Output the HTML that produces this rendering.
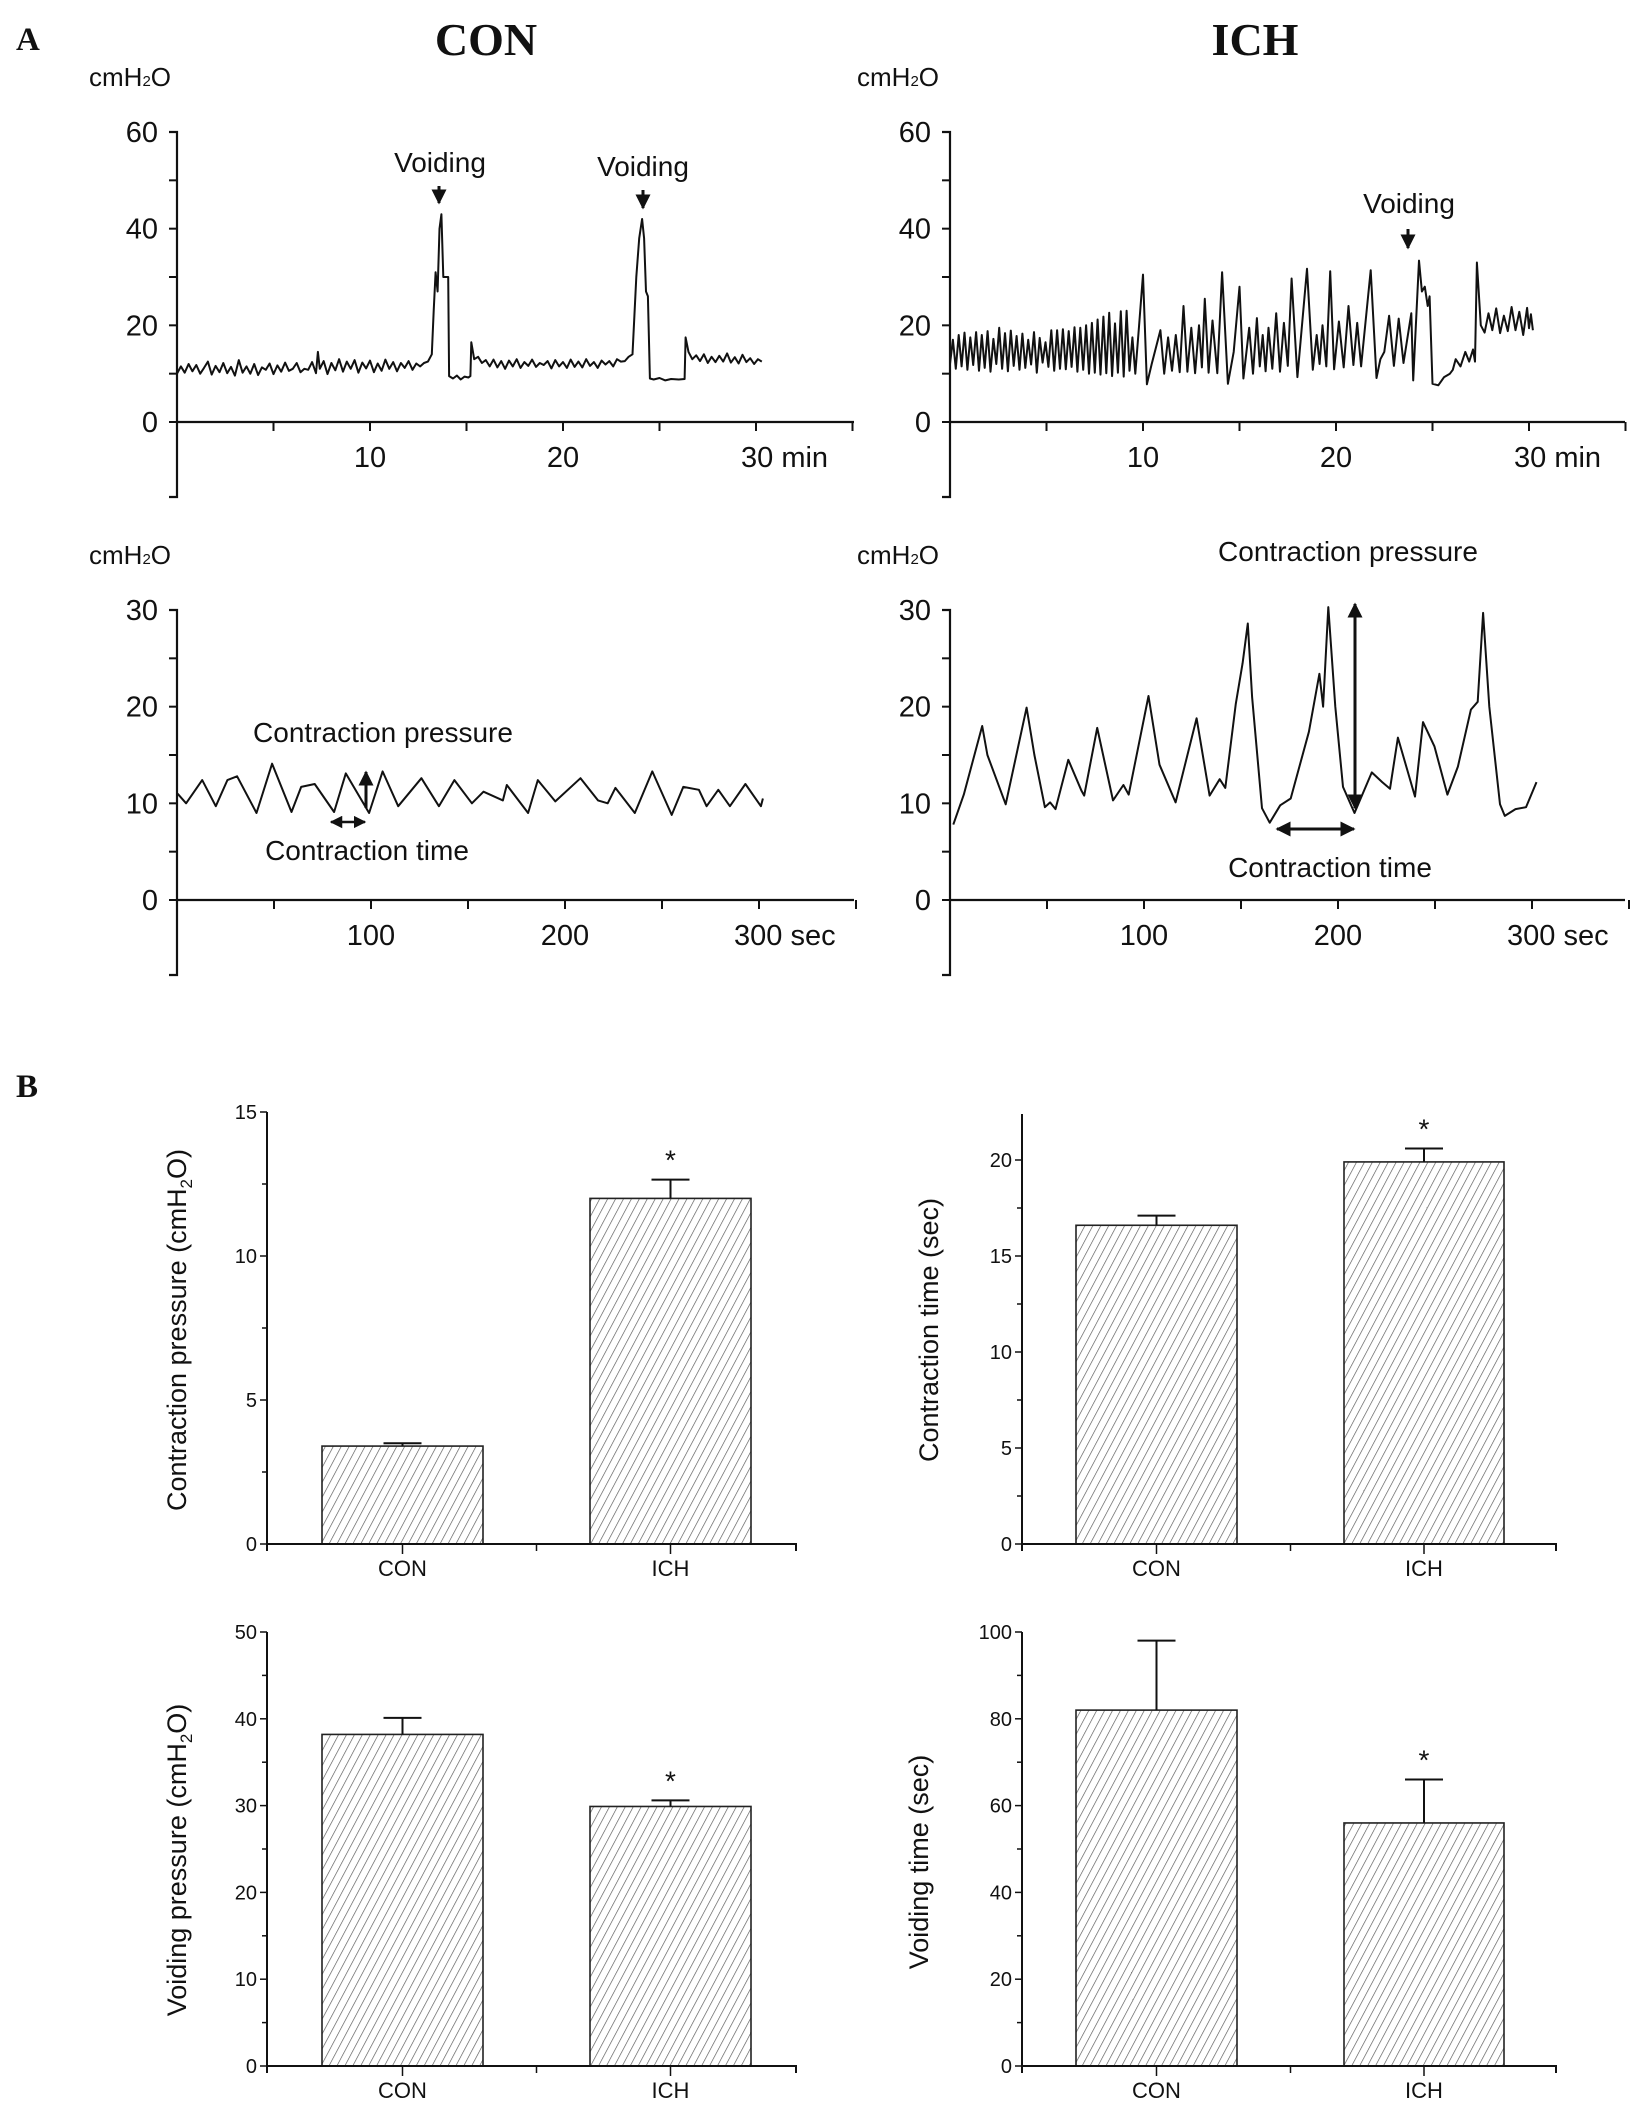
<!DOCTYPE html>
<html><head><meta charset="utf-8"><style>
html,body{margin:0;padding:0;background:#fff}
svg{display:block}
text{font-family:"Liberation Sans",Arial,sans-serif;fill:#111}
.ser{font-family:"Liberation Serif","Times New Roman",serif;font-weight:bold}
</style></head><body>
<svg id="fig" width="1639" height="2120" viewBox="0 0 1639 2120" xmlns="http://www.w3.org/2000/svg">
<defs>
<pattern id="hatch" patternUnits="userSpaceOnUse" width="7" height="7" patternTransform="rotate(28)">
<rect width="7" height="7" fill="#fff"/><line x1="0" y1="0" x2="0" y2="7" stroke="#555" stroke-width="1.3"/>
</pattern>
<marker id="ah" viewBox="0 0 10 10" refX="9" refY="5" markerWidth="5" markerHeight="5" orient="auto-start-reverse"><path d="M0,0 L10,5 L0,10 z" fill="#111"/></marker>
</defs>
<text x="16" y="50" class="ser" font-size="33">A</text>
<text x="486" y="55" class="ser" font-size="46" text-anchor="middle">CON</text>
<text x="1255" y="55" class="ser" font-size="46" text-anchor="middle">ICH</text>
<text x="16" y="1097" class="ser" font-size="33">B</text>
<g id="root"></g>
</svg>
<script>
// ---------- trace data: [time, pressure] ----------
const conTopPoints=[[0,10],[0.2,11.5],[0.4,10.2],[0.6,12],[0.8,10.5],[1,11.8],[1.2,10],[1.4,11.2],[1.6,12.5],[1.8,9.8],[2,11.6],[2.2,10.3],[2.4,12.2],[2.6,10.1],[2.8,11.4],[3,9.6],[3.2,12.8],[3.4,10.2],[3.6,11.5],[3.8,10],[4,12],[4.2,9.7],[4.4,11.3],[4.6,10.8],[4.8,12.1],[5,9.9],[5.2,11.7],[5.4,10.4],[5.6,12.3],[5.8,10.6],[6,11],[6.2,12.2],[6.4,10.3],[6.6,11],[6.8,10.8],[7,12.4],[7.2,10.1],[7.3,14.5],[7.4,11],[7.6,12.6],[7.8,9.9],[8,12.2],[8.2,10.7],[8.4,13],[8.6,10.4],[8.8,12.5],[9,11],[9.2,12.8],[9.4,10.2],[9.6,12.3],[9.8,11.1],[10,12.7],[10.2,10.3],[10.4,12.1],[10.6,10.6],[10.8,12.9],[11,11],[11.2,12.4],[11.4,10.5],[11.6,12.2],[11.8,11.2],[12,12.6],[12.2,10.8],[12.4,12.1],[12.6,11.5],[12.8,12.2],[13,12.5],[13.2,14],[13.3,23],[13.4,31],[13.5,27],[13.6,40],[13.7,43],[13.8,30],[14.05,30],[14.1,9.5],[14.3,9],[14.5,9.6],[14.7,8.8],[14.9,9.4],[15.1,9.2],[15.2,9.5],[15.25,16.5],[15.4,13],[15.6,13.5],[15.8,12.2],[16,12.8],[16.2,11.5],[16.4,12.9],[16.6,11.3],[16.8,12.6],[17,11],[17.2,12.7],[17.4,11.5],[17.6,13],[17.8,11.2],[18,12.4],[18.2,11.6],[18.4,12.9],[18.6,11.4],[18.8,12.2],[19,11.8],[19.2,12.6],[19.4,11.1],[19.6,12.8],[19.8,11.5],[20,12.4],[20.2,11.2],[20.4,12.9],[20.6,11.4],[20.8,12.5],[21,11.3],[21.2,13],[21.4,11.6],[21.6,12.4],[21.8,11.2],[22,12.7],[22.2,11.9],[22.4,12.6],[22.6,11.5],[22.8,13],[23,12.5],[23.2,12.6],[23.4,13.5],[23.6,14],[23.7,22],[23.8,30],[23.95,38],[24.1,42],[24.2,38],[24.3,27],[24.4,26],[24.5,9],[24.7,8.8],[25,9.1],[25.3,8.6],[25.6,8.9],[26,8.8],[26.3,8.9],[26.35,17.5],[26.5,14.5],[26.7,13],[26.9,13.8],[27.1,12.6],[27.3,14],[27.5,12.2],[27.7,13.5],[27.9,12.4],[28.1,13.7],[28.3,12.5],[28.5,14.2],[28.7,12.3],[28.9,13.4],[29.1,12.1],[29.3,13.9],[29.5,12.4],[29.7,13.2],[29.9,12],[30.1,13],[30.3,12.5]];
const ichTopPoints=[[0,12],[0.15,17],[0.3,11],[0.45,18],[0.6,11.5],[0.75,18.5],[0.9,10.8],[1.05,17.5],[1.2,11.8],[1.35,18.6],[1.5,10.6],[1.65,18],[1.8,11.2],[1.95,18.8],[2.1,10.4],[2.25,17.2],[2.4,12],[2.55,19.5],[2.7,11],[2.85,18.4],[3,10.5],[3.15,18.9],[3.3,11.6],[3.45,17.8],[3.6,10.8],[3.75,18.3],[3.9,11.2],[4.05,17],[4.2,11.9],[4.35,18.6],[4.5,10.2],[4.65,17.4],[4.8,12.3],[4.95,16.5],[5.1,11.4],[5.25,19],[5.4,10.6],[5.55,19],[5.7,11],[5.85,19.2],[6,10.9],[6.15,18.8],[6.3,11.4],[6.45,19.6],[6.6,10.4],[6.75,19.5],[6.9,10.8],[7.05,20],[7.2,10],[7.35,20.5],[7.5,10.2],[7.65,21.2],[7.8,9.8],[7.95,21.8],[8.1,10.1],[8.25,22.6],[8.4,9.5],[8.55,20.4],[8.7,10.2],[8.85,22.9],[9,9.4],[9.15,23],[9.3,10.6],[9.45,17.5],[9.6,10],[9.8,20],[10,30.5],[10.2,7.8],[10.45,12],[10.9,19],[11.1,10],[11.3,17.5],[11.5,10.6],[11.7,18],[11.9,10.3],[12.1,24],[12.3,10.4],[12.5,19.5],[12.7,10.1],[12.9,20],[13.05,11.3],[13.2,25.5],[13.4,10.2],[13.6,21],[13.85,10.1],[14.1,31],[14.4,7.9],[14.7,14.5],[15,28],[15.2,9],[15.5,19.5],[15.7,10],[15.9,21.5],[16.05,11.5],[16.2,18],[16.35,10.5],[16.5,19.5],[16.7,11],[16.9,22.5],[17.1,10.4],[17.3,20.5],[17.5,11.6],[17.7,29.7],[18,9.3],[18.5,31.7],[18.8,10.8],[19,18],[19.15,12],[19.3,20],[19.5,11.5],[19.7,31.2],[19.9,10.9],[20.15,20.8],[20.4,11.3],[20.65,24],[20.9,11.8],[21.1,20.5],[21.3,11.5],[21.8,31.4],[22.1,9.1],[22.3,13],[22.5,14.5],[22.75,22],[23,11.6],[23.25,21.4],[23.5,12.2],[23.9,22.5],[24,8.6],[24.3,33.4],[24.45,27],[24.6,28],[24.75,24],[24.85,26],[25,7.9],[25.3,7.6],[25.6,9.3],[25.9,10],[26.05,10.8],[26.2,13],[26.45,11.5],[26.7,14.5],[26.9,12.5],[27.1,15],[27.2,12.5],[27.3,33],[27.5,20],[27.7,18.5],[27.9,22.5],[28.1,19],[28.3,23.5],[28.5,18.4],[28.7,22],[28.9,18.8],[29.1,23.8],[29.3,19],[29.5,22.8],[29.7,18],[29.9,23.6],[30,19.4],[30.1,22.3],[30.2,19]];
const conBotPoints=[[0.3,11],[4.7,10],[13,12.4],[20,9.7],[26,12.4],[31,12.8],[41,9],[49,14.1],[59,9.1],[64,11.7],[71,12],[81,9.1],[87,13.1],[99,9],[106,13.3],[114,9.7],[126,12.6],[135,9.7],[143,12.4],[152,10],[158,11.2],[168,10.3],[170,11.9],[181,9],[186,12.4],[195,10.2],[208,12.6],[217,10.3],[222,10],[226,11.6],[236,9],[245,13.3],[255,8.8],[261,11.7],[269,11.4],[273,9.7],[279,11.4],[285,9.7],[293,12],[301,9.7],[302,10.5]];
const ichBotPoints=[[1.7,7.8],[7.1,10.9],[16.6,18],[19.3,15],[28.7,9.9],[39.5,19.9],[43.5,15],[48.9,9.6],[51.6,10.1],[54.4,9.4],[61,14.5],[67.8,11.3],[69.2,10.8],[75.9,17.8],[84,10.3],[89.4,11.9],[92.1,10.9],[102.3,21.1],[108,14],[116.3,10.1],[127.1,18.8],[133.8,10.8],[139,12.5],[141.9,11.6],[147.3,20.3],[150.8,24.5],[153.5,28.6],[155.7,21],[160.8,9.5],[164.8,8],[170.2,9.8],[175.6,10.5],[185,17.4],[190.4,23.4],[192.3,20],[195,30.3],[198.6,20],[202.6,11.7],[208.5,9],[217.4,13.2],[222.8,12.2],[226.8,11.5],[230.9,16.8],[239.7,10.7],[243.8,18.4],[249.7,15.9],[256.4,10.9],[261.8,13.8],[268.5,19.7],[272,20.5],[274.8,29.7],[278,20],[283.5,9.9],[286,8.7],[291.5,9.4],[296.9,9.6],[302.3,12.2]];
// ---------- bar data ----------
const barCategories=["CON","ICH"];
const cpMean=[3.4,12.0], cpErr=[3.5,12.65];
const ctMean=[16.6,19.9], ctErr=[17.1,20.6];
const vpMean=[38.2,29.9], vpErr=[40.1,30.6];
const vtMean=[82,56], vtErr=[98,66];
const cpTicks=[0,5,10,15], ctTicks=[0,5,10,15,20], vpTicks=[0,10,20,30,40,50], vtTicks=[0,20,40,60,80,100];
const topXTicks=[10,20,30], botXTicks=[100,200,300];

const NS="http://www.w3.org/2000/svg";
const root=document.getElementById('root');
function mk(tag,attrs,parent,txt){const e=document.createElementNS(NS,tag);for(const k in attrs)e.setAttribute(k,attrs[k]);if(txt!==undefined)e.textContent=txt;(parent||root).appendChild(e);return e;}

function tracePanel(o){
  const g=mk('g',{});
  
  
  const sx=v=>o.x0+v*o.pxX, sy=v=>o.y0-v*o.pxY;
  const yTop=sy(o.ymax);
  const ax=mk('path',{d:`M${o.x0-8},${yTop} H${o.x0} V${o.y0+75} H${o.x0-8} M${o.x0},${o.y0} H${o.xEnd}`,stroke:'#111','stroke-width':2.2,fill:'none'},g);
  
  
  for(let v=0;v<=o.ymax;v+=o.ymax/6){const y=sy(v);mk('line',{x1:o.x0-8,y1:y,x2:o.x0,y2:y,stroke:'#111','stroke-width':2},g);}
  for(let v=0;v<=o.ymax;v+=o.ymax/3){const t=mk('text',{x:o.x0-19,y:sy(v)+10,'font-size':29,'text-anchor':'end'},g,String(v));
    
    }
  for(let v=o.xstep;v<=o.xmax;v+=o.xstep){const x=sx(v);mk('line',{x1:x,y1:o.y0,x2:x,y2:o.y0+9,stroke:'#111','stroke-width':2},g);}
  o.xTicks.forEach((v,i)=>{const last=i===o.xTicks.length-1;
    const t=mk('text',{x:last?sx(v)-o.lastOff:sx(v),y:o.y0+45,'font-size':29,'text-anchor':last?'start':'middle'},g,last?v+' '+o.unit:String(v));
    
    });
  const u=mk('text',{x:o.ux,y:o.uy,'font-size':26},g);
  
  
  mk('tspan',{},u,'cmH');mk('tspan',{'font-size':15},u,'2');mk('tspan',{},u,'O');
  let d='';o.pts.forEach((p,i)=>{d+=(i?'L':'M')+sx(p[0]).toFixed(1)+','+sy(p[1]).toFixed(1);});
  const p=mk('path',{d,stroke:'#111','stroke-width':2,fill:'none','stroke-linejoin':'round'},g);
  
  
}
function label(txt,x,y,size,name){const t=mk('text',{x,y,'font-size':size,'text-anchor':'middle'},root,txt);
  
  return t;}
function arrow(x1,y1,x2,y2,both,name,w){const l=mk('line',{x1,y1,x2,y2,stroke:'#111','stroke-width':w||3,'marker-end':'url(#ah)'});if(both)l.setAttribute('marker-start','url(#ah)');
  
  }

tracePanel({name:'con-cystometry-30min',x0:177,y0:422,pxX:19.3,pxY:290/60,ymax:60,xmax:35,xstep:5,xEnd:854,xTicks:topXTicks,unit:'min',lastOff:15,pts:conTopPoints,ux:89,uy:86});
tracePanel({name:'ich-cystometry-30min',x0:950,y0:422,pxX:19.3,pxY:290/60,ymax:60,xmax:35,xstep:5,xEnd:1625,xTicks:topXTicks,unit:'min',lastOff:15,pts:ichTopPoints,ux:857,uy:86});
tracePanel({name:'con-cystometry-300sec',x0:177,y0:900,pxX:1.94,pxY:290/30,ymax:30,xmax:350,xstep:50,xEnd:854,xTicks:botXTicks,unit:'sec',lastOff:25,pts:conBotPoints,ux:89,uy:564});
tracePanel({name:'ich-cystometry-300sec',x0:950,y0:900,pxX:1.94,pxY:290/30,ymax:30,xmax:350,xstep:50,xEnd:1625,xTicks:botXTicks,unit:'sec',lastOff:25,pts:ichBotPoints,ux:857,uy:564});

label('Voiding',440,172,28,'voiding-label-1');arrow(439,186,439,203,false,'voiding-arrow-1',3);
label('Voiding',643,176,28,'voiding-label-2');arrow(643,190,643,208,false,'voiding-arrow-2',3);
label('Voiding',1409,213,28,'voiding-label-3');arrow(1408,229,1408,248,false,'voiding-arrow-3',3);
label('Contraction pressure',383,742,28,'contraction-pressure-label-con');
label('Contraction time',367,860,28,'contraction-time-label-con');
arrow(331,822,365,822,true,'contraction-time-arrow-con',2.5);
arrow(366,808,366,772,false,'contraction-pressure-arrow-con',3);
label('Contraction pressure',1348,561,28,'contraction-pressure-label-ich');
label('Contraction time',1330,877,28,'contraction-time-label-ich');
arrow(1277,829,1354,829,true,'contraction-time-arrow-ich',3);
arrow(1355,808,1355,604,true,'contraction-pressure-arrow-ich',3);

function barChart(o){
  const g=mk('g',{});
  
  
  const ymax=o.ticks[o.ticks.length-1];
  const sy=v=>o.y0-(v/ymax)*(o.y0-o.yTop);
  const top=o.axisTop!==undefined?o.axisTop:sy(ymax);
  const step=o.ticks[1]-o.ticks[0];
  for(let v=0;v<=ymax+1e-9;v+=step/2){const y=sy(v);const maj=Math.abs((v/step)-Math.round(v/step))<1e-6;
    mk('line',{x1:o.ax-(maj?7:5),y1:y,x2:o.ax,y2:y,stroke:'#111','stroke-width':1.5},g);}
  o.ticks.forEach(v=>{const t=mk('text',{x:o.ax-10,y:sy(v)+7,'font-size':20,'text-anchor':'end'},g,String(v));
    
    });
  o.mean.forEach((m,i)=>{
    const x1=o.bars[i][0],x2=o.bars[i][1],cx=(x1+x2)/2;
    const r=mk('rect',{x:x1,y:sy(m),width:x2-x1,height:o.y0-sy(m),fill:'url(#hatch)',stroke:'#222','stroke-width':1.6},g);
    
    
    const e=mk('path',{d:`M${cx},${sy(m)} V${sy(o.err[i])} M${cx-19},${sy(o.err[i])} H${cx+19}`,stroke:'#111','stroke-width':2,fill:'none'},g);
    
    
    mk('line',{x1:cx,y1:o.y0,x2:cx,y2:o.y0+10,stroke:'#111','stroke-width':1.5},g);
    const c=mk('text',{x:cx,y:o.y0+32,'font-size':22,'text-anchor':'middle'},g,barCategories[i]);
    
    
    if(o.star[i]){const s=mk('text',{x:cx,y:sy(o.err[i])-10,'font-size':28,'text-anchor':'middle'},g,'*');
      
      }
  });
  const mid=(o.bars[0][1]+o.bars[1][0])/2;
  mk('line',{x1:mid,y1:o.y0,x2:mid,y2:o.y0+7,stroke:'#111','stroke-width':1.5},g);
  const ax=mk('path',{d:`M${o.ax},${top} V${o.y0+7} M${o.ax},${o.y0} H${o.xEnd} V${o.y0+7}`,stroke:'#111','stroke-width':2,fill:'none'},g);
  
  
  const t=mk('text',{x:0,y:0,'font-size':27,'text-anchor':'middle',transform:`translate(${o.tx},${o.ty}) rotate(-90)`},g);
  
  
  mk('tspan',{},t,o.title[0]);
  if(o.title.length>1){mk('tspan',{'font-size':17,dy:6},t,'2');mk('tspan',{dy:-6},t,o.title[1]);}
}
const Lbars=[[322,483],[590,751]], Rbars=[[1076,1237],[1344,1504]];
barChart({name:'contraction-pressure-chart',ax:267,xEnd:796,y0:1544,yTop:1112,ticks:cpTicks,mean:cpMean,err:cpErr,bars:Lbars,star:[0,1],title:['Contraction pressure (cmH','O)'],tx:186,ty:1330});
barChart({name:'contraction-time-chart',ax:1022,xEnd:1556,y0:1544,yTop:1160,axisTop:1114,ticks:ctTicks,mean:ctMean,err:ctErr,bars:Rbars,star:[0,1],title:['Contraction time (sec)'],tx:938,ty:1330});
barChart({name:'voiding-pressure-chart',ax:267,xEnd:796,y0:2066,yTop:1632,ticks:vpTicks,mean:vpMean,err:vpErr,bars:Lbars,star:[0,1],title:['Voiding pressure (cmH','O)'],tx:186,ty:1860});
barChart({name:'voiding-time-chart',ax:1022,xEnd:1556,y0:2066,yTop:1632,ticks:vtTicks,mean:vtMean,err:vtErr,bars:Rbars,star:[0,1],title:['Voiding time (sec)'],tx:928,ty:1862});
</script>
</body></html>
